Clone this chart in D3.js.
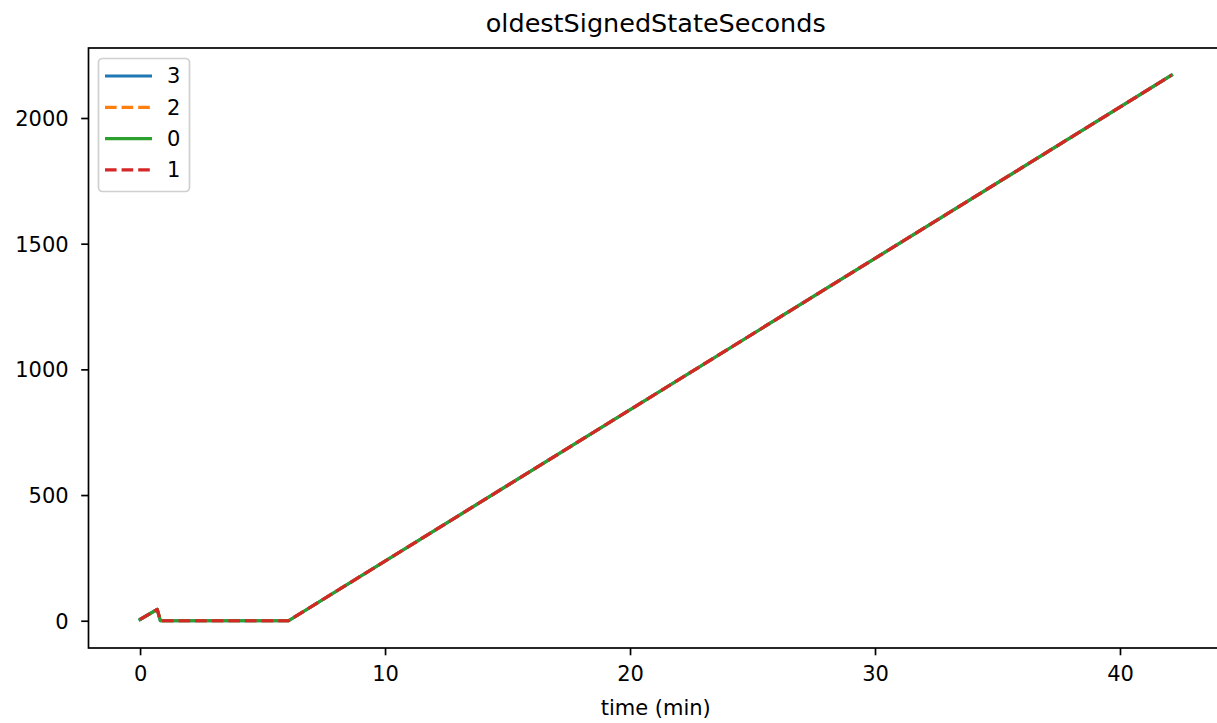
<!DOCTYPE html>
<html><head><meta charset="utf-8">
<script src="https://cdn.jsdelivr.net/npm/d3@7"></script>
<style>body{margin:0;background:#fff}svg{display:block}text{font-family:"DejaVu Sans",sans-serif;fill:#000}</style>
</head><body>
<script>
// Data (time in minutes, value in seconds)
const seriesNames = ["3", "2", "0", "1"];
const seriesColors = ["#1f77b4", "#ff7f0e", "#2ca02c", "#d62728"];
const seriesDashed = [false, true, false, true];
const times3 = [0, 0.7, 0.83, 6.06, 42.1];
const values3 = [5, 45, 0, 0, 2170];
const times2 = [0, 0.7, 0.83, 6.06, 42.1];
const values2 = [5, 45, 0, 0, 2170];
const times0 = [0, 0.7, 0.83, 6.06, 42.1];
const values0 = [5, 45, 0, 0, 2170];
const times1 = [0, 0.7, 0.83, 6.06, 42.1];
const values1 = [5, 45, 0, 0, 2170];
const xTicks = [0, 10, 20, 30, 40];
const yTicks = [0, 500, 1000, 1500, 2000];
const title = "oldestSignedStateSeconds";
const xLabel = "time (min)";

const W = 1217, H = 723;
// the figure is cropped on the right: the axes box extends slightly past the image edge
const m = {left: 88.5, right: 1223, top: 48, bottom: 648};
const svg = d3.select("body").append("svg").attr("width", W).attr("height", H);

const allT = [times3, times2, times0, times1], allV = [values3, values2, values0, values1];
const series = seriesNames.map((n, i) => ({name: n, color: seriesColors[i], dashed: seriesDashed[i],
  pts: allT[i].map((t, j) => [t, allV[i][j]])}));

const tMin = d3.min(allT.flat()), tMax = d3.max(allT.flat());
const vMin = d3.min(allV.flat()), vMax = d3.max(allV.flat());
const tPad = (tMax - tMin) * 0.05, vPad = (vMax - vMin) * 0.05;
const x = d3.scaleLinear().domain([tMin - tPad, tMax + tPad]).range([m.left, m.right]);
const y = d3.scaleLinear().domain([vMin - vPad, vMax + vPad]).range([m.bottom, m.top]);

const lw = 3.15;
const dash = "11.6,5";
const line = d3.line().x(d => x(d[0])).y(d => y(d[1]));
const g = svg.append("g");
series.forEach(s => {
  g.append("path").attr("d", line(s.pts)).attr("fill", "none").attr("stroke", s.color)
    .attr("stroke-width", lw).attr("stroke-linejoin", "round")
    .attr("stroke-linecap", s.dashed ? "butt" : "square")
    .attr("stroke-dasharray", s.dashed ? dash : null);
});

// Axes
const xAxis = d3.axisBottom(x).tickValues(xTicks).tickSize(7.3).tickPadding(10.5).tickFormat(d3.format("d"));
const yAxis = d3.axisLeft(y).tickValues(yTicks).tickSize(7.3).tickPadding(12.5).tickFormat(d3.format("d"));
const gx = svg.append("g").attr("transform", `translate(0,${m.bottom})`).call(xAxis);
const gy = svg.append("g").attr("transform", `translate(${m.left},0)`).call(yAxis);
[gx, gy].forEach(a => {
  a.select(".domain").remove();
  a.selectAll(".tick line").attr("stroke", "#000").attr("stroke-width", 1.7);
  a.selectAll(".tick text").attr("font-size", 21).attr("font-family", "DejaVu Sans").attr("fill", "#000");
});
gy.selectAll(".tick text").attr("dy", "0.35em");
// frame
svg.append("rect").attr("x", m.left).attr("y", m.top).attr("width", m.right - m.left).attr("height", m.bottom - m.top)
  .attr("fill", "none").attr("stroke", "#000").attr("stroke-width", 1.7);

svg.append("text").attr("x", (m.left + m.right) / 2).attr("y", 32).attr("text-anchor", "middle")
  .attr("font-size", 25.5).text(title);
svg.append("text").attr("x", (m.left + m.right) / 2).attr("y", 714.5).attr("text-anchor", "middle")
  .attr("font-size", 21).text(xLabel);

// Legend
const lg = svg.append("g");
lg.append("rect").attr("x", 98.5).attr("y", 58.5).attr("width", 91).attr("height", 133).attr("rx", 4)
  .attr("fill", "#fff").attr("fill-opacity", 0.8).attr("stroke", "#d0d0d0").attr("stroke-width", 1.7);
series.forEach((s, i) => {
  const yy = 76 + i * 31.3;
  lg.append("line").attr("x1", 105).attr("x2", 152).attr("y1", yy).attr("y2", yy)
    .attr("stroke", s.color).attr("stroke-width", lw)
    .attr("stroke-dasharray", s.dashed ? dash : null);
  lg.append("text").attr("x", 167).attr("y", yy).attr("dy", "0.35em").attr("font-size", 21).text(s.name);
});
</script>
</body></html>
